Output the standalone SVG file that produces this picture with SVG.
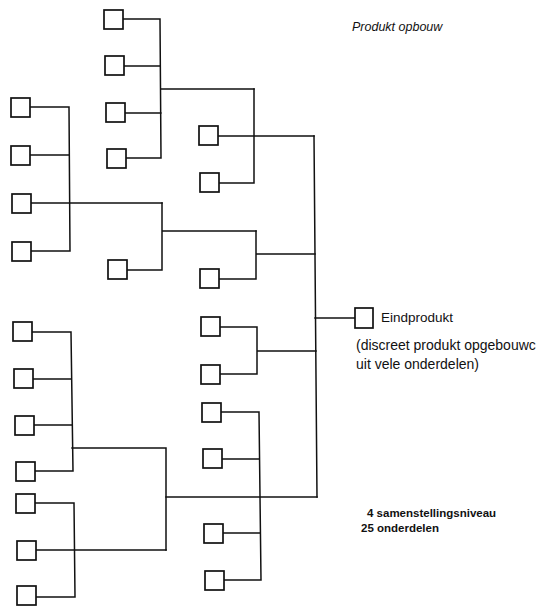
<svg xmlns="http://www.w3.org/2000/svg" width="536" height="606" viewBox="0 0 536 606">
<style>
.b{fill:#fff;stroke:#111;stroke-width:1.7}
.c{fill:none;stroke:#111;stroke-width:1.5;stroke-linecap:square}
.t{font-family:"Liberation Sans",Arial,sans-serif;fill:#111}
</style>
<rect width="536" height="606" fill="#fff"/>
<g id="connectors" class="c">
<path d="M123,19H160M124,66H160M125,113H161M126,158H161M160,19L161,158M161,89H254"/>
<path d="M218,136H314M219,183H254M254,89V183"/>
<path d="M30,107H69M30,155H69M31,203H162M31,251H70M69,107L70,251"/>
<path d="M127,270H162M162,203V270M162,231H256"/>
<path d="M219,279H256M256,231V279M256,254H315"/>
<path d="M314,136L317,497"/>
<path d="M315,318H355"/>
<path d="M220,327H257M220,374H257M257,327V374M257,351H316"/>
<path d="M221,412H259M222,459H259M223,533H260M224,580H261M259,412L261,580"/>
<path d="M166,497H317"/>
<path d="M32,332H71M33,379H71M34,425H72M35,471H73M71,332L73,471M72,448H166M166,448V550"/>
<path d="M35,503H74M36,550H166M36,597H75M74,503L75,597"/>
</g>
<g id="A1"><rect class="b" x="104" y="10" width="19" height="19"/></g>
<g id="A2"><rect class="b" x="105" y="56" width="19" height="19"/></g>
<g id="A3"><rect class="b" x="106" y="103" width="19" height="19"/></g>
<g id="A4"><rect class="b" x="107" y="149" width="19" height="19"/></g>
<g id="B1"><rect class="b" x="199" y="126" width="19" height="19"/></g>
<g id="B2"><rect class="b" x="200" y="173" width="19" height="19"/></g>
<g id="C1"><rect class="b" x="11" y="98" width="19" height="19"/></g>
<g id="C2"><rect class="b" x="11" y="146" width="19" height="19"/></g>
<g id="C3"><rect class="b" x="12" y="194" width="19" height="19"/></g>
<g id="C4"><rect class="b" x="12" y="242" width="19" height="19"/></g>
<g id="D"><rect class="b" x="108" y="260" width="19" height="19"/></g>
<g id="E"><rect class="b" x="200" y="269" width="19" height="19"/></g>
<g id="F1"><rect class="b" x="201" y="317" width="19" height="19"/></g>
<g id="F2"><rect class="b" x="201" y="365" width="19" height="19"/></g>
<g id="G1"><rect class="b" x="202" y="403" width="19" height="19"/></g>
<g id="G2"><rect class="b" x="203" y="449" width="19" height="19"/></g>
<g id="H1"><rect class="b" x="204" y="524" width="19" height="19"/></g>
<g id="H2"><rect class="b" x="205" y="571" width="19" height="19"/></g>
<g id="K1"><rect class="b" x="13" y="322" width="19" height="19"/></g>
<g id="K2"><rect class="b" x="14" y="369" width="19" height="19"/></g>
<g id="K3"><rect class="b" x="15" y="416" width="19" height="19"/></g>
<g id="K4"><rect class="b" x="16" y="462" width="19" height="19"/></g>
<g id="L1"><rect class="b" x="16" y="494" width="19" height="19"/></g>
<g id="L2"><rect class="b" x="17" y="541" width="19" height="19"/></g>
<g id="L3"><rect class="b" x="17" y="586" width="19" height="19"/></g>
<g id="eindprodukt">
<rect class="b" x="355" y="308" width="18" height="20"/>
<text class="t" x="381" y="322" font-size="13.5">Eindprodukt</text>
<text class="t" x="356" y="350" font-size="14">(discreet produkt opgebouwc</text>
<text class="t" x="356" y="369" font-size="14">uit vele onderdelen)</text>
</g>
<g id="title"><text class="t" x="352" y="31" font-size="12.5" font-style="italic">Produkt opbouw</text></g>
<g id="info">
<text class="t" x="367" y="517" font-size="11.5" font-weight="bold">4 samenstellingsniveau</text>
<text class="t" x="361" y="532" font-size="11.5" font-weight="bold">25 onderdelen</text>
</g>
</svg>
